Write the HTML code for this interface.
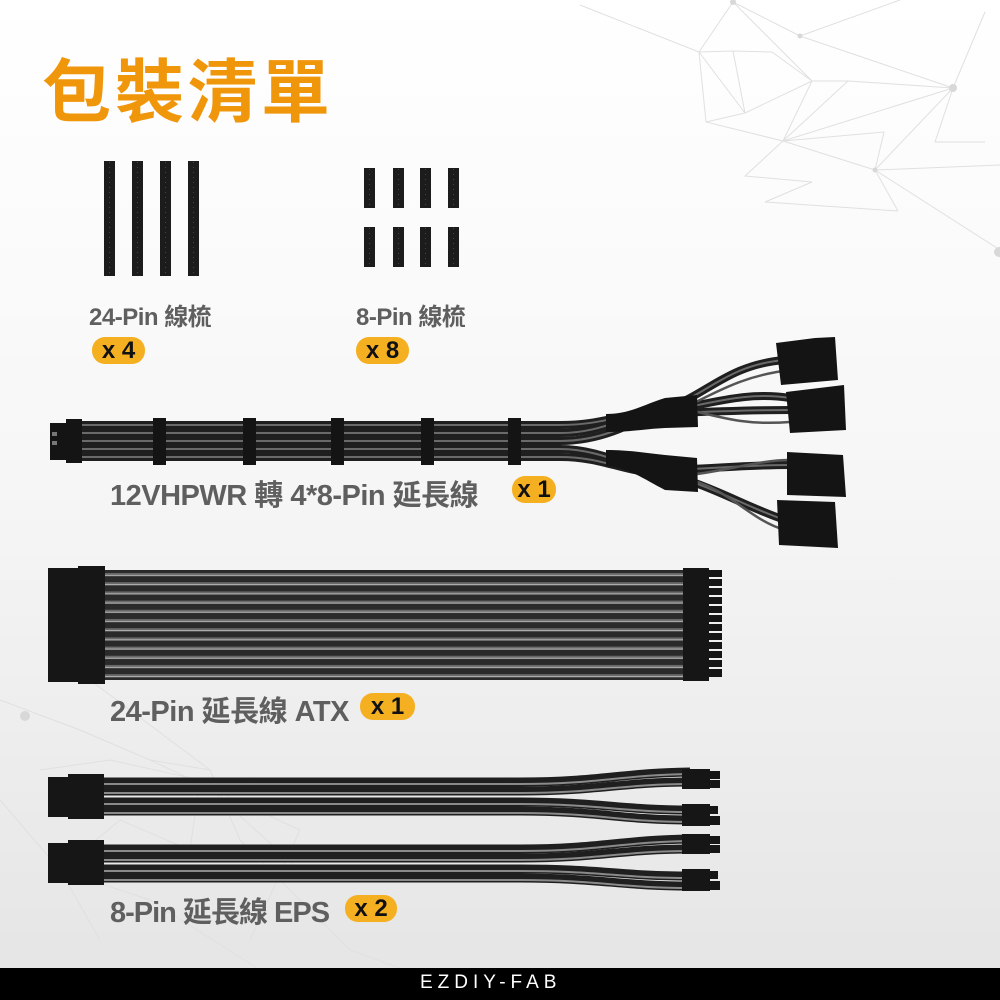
<!DOCTYPE html>
<html><head><meta charset="utf-8"><style>
html,body{margin:0;padding:0}
body{width:1000px;height:1000px;overflow:hidden;background:linear-gradient(#ffffff 0%,#f7f7f7 45%,#e6e6e6 95%);position:relative;font-family:"Liberation Sans","Noto Sans CJK TC",sans-serif}
svg{position:absolute;left:0;top:0}
.t{position:absolute;font-weight:bold;color:#5f5f5f;white-space:nowrap;letter-spacing:-0.5px}
.b{position:absolute;background:#f5b022;border-radius:13px;font-weight:bold;color:#111;text-align:center;font-size:24px;line-height:27px}
</style></head><body>
<svg width="1000" height="1000" viewBox="0 0 1000 1000">
<defs>
<pattern id="atx" x="0" y="570" width="10" height="9.2" patternUnits="userSpaceOnUse"><rect width="10" height="9.2" fill="#2a2a2a"/><rect y="3" width="10" height="3" fill="#6a6a6a"/><rect y="5" width="10" height="1" fill="#bbb"/></pattern>
</defs>
<g stroke="#e0e0e0" stroke-width="1" fill="none">
<path d="M733,2 L699,52 L733,51 L772,52 M733,2 L812,81 M733,2 L800,36 L953,88 M699,52 L745,113 L812,81 L848,81 L953,88 M733,51 L745,113 M772,52 L812,81 M699,52 L706,122 L783,141 M706,122 L745,113 M783,141 L812,81 M783,141 L953,88 M848,81 L783,141 M953,88 L875,170 L884,132 L783,141 M953,88 L935,142 L985,142 M875,170 L1000,165 M875,170 L898,211 M875,170 L1000,250 M783,141 L745,176 L812,182 M783,141 L875,170 M812,182 L765,202 M765,202 L898,211 M953,88 L985,12 M800,36 L900,0 M580,5 L699,52"/>
<path d="M0,700 L80,730 L150,760 L210,770 L240,840 L300,900 L350,950 L400,968 M40,770 L110,760 L200,780 L190,850 L120,820 L60,870 L100,940 M200,780 L300,870 M150,760 L300,830 L250,940 M210,770 L90,680 M0,800 L60,870 L150,900 L260,970"/>
</g>
<g fill="#d8d8d8"><circle cx="953" cy="88" r="4"/><circle cx="733" cy="2" r="3"/><circle cx="800" cy="36" r="2.5"/><circle cx="999" cy="252" r="5"/><circle cx="25" cy="716" r="5"/><circle cx="875" cy="170" r="2.5"/></g>
<g fill="#1c1c1c"><rect x="104" y="161" width="11" height="115"/><rect x="132" y="161" width="11" height="115"/><rect x="160" y="161" width="11" height="115"/><rect x="188" y="161" width="11" height="115"/>
<rect x="364" y="168" width="11" height="40"/><rect x="393" y="168" width="11" height="40"/><rect x="420" y="168" width="11" height="40"/><rect x="448" y="168" width="11" height="40"/>
<rect x="364" y="227" width="11" height="40"/><rect x="393" y="227" width="11" height="40"/><rect x="420" y="227" width="11" height="40"/><rect x="448" y="227" width="11" height="40"/></g>
<g stroke="#444" stroke-width="1" stroke-dasharray="1 4"><path d="M109.5,162V276M137.5,162V276M165.5,162V276M193.5,162V276M369.5,169V207M398.5,169V207M425.5,169V207M453.5,169V207M369.5,228V266M398.5,228V266M425.5,228V266M453.5,228V266"/></g>
<g fill="none" stroke-linecap="round">
<g stroke="#1f1f1f" stroke-width="8"><path d="M80,425 H560 C600,425 620,415 650,412 C700,405 720,365 785,360"/><path d="M80,433 H560 C600,433 620,418 650,413 C700,408 740,390 790,398"/><path d="M80,441 H560 C600,441 630,425 650,414 C700,412 740,410 790,410"/><path d="M80,449 H560 C600,449 630,468 650,470 C700,470 740,465 790,465"/><path d="M80,457 H560 C600,457 620,470 650,472 C700,478 740,505 785,520"/></g>
<g stroke="#6a6a6a" stroke-width="2"><path d="M80,425 H560 C600,425 620,415 650,412 C700,405 720,365 785,360"/><path d="M80,433 H560 C600,433 620,418 650,413 C700,408 740,390 790,398"/><path d="M80,441 H560 C600,441 630,425 650,414 C700,412 740,410 790,410"/><path d="M80,449 H560 C600,449 630,468 650,470 C700,470 740,465 790,465"/><path d="M80,457 H560 C600,457 620,470 650,472 C700,478 740,505 785,520"/></g>
<g stroke="#555" stroke-width="2.5"><path d="M690,405 C730,385 750,375 790,370"/><path d="M690,410 C730,420 750,425 790,422"/><path d="M690,475 C730,470 760,460 790,460"/><path d="M690,480 C730,490 750,520 785,530"/></g>
</g>
<g fill="#141414">
<path d="M606,414 C630,414 645,404 665,398 L697,395 L698,427 L665,428 C645,429 630,432 606,432Z"/>
<path d="M606,450 C630,450 645,453 665,455 L697,458 L698,492 L665,490 C645,480 630,468 606,466Z"/>
<rect x="50" y="423" width="18" height="37"/><rect x="66" y="419" width="16" height="44"/>
<rect x="153" y="418" width="13" height="47"/><rect x="243" y="418" width="13" height="47"/><rect x="331" y="418" width="13" height="47"/><rect x="421" y="418" width="13" height="47"/><rect x="508" y="418" width="13" height="47"/>
<path d="M776,343 L815,338 L835,337 L838,380 L781,385Z"/>
<path d="M786,392 L844,385 L846,430 L790,433Z"/>
<path d="M787,452 L843,455 L846,497 L787,495Z"/>
<path d="M777,500 L835,502 L838,548 L779,545Z"/>
</g>
<g fill="#777"><rect x="52" y="432" width="5" height="4"/><rect x="52" y="441" width="5" height="4"/></g>
<rect x="105" y="570" width="580" height="110" fill="url(#atx)"/>
<rect x="48" y="568" width="32" height="114" fill="#161616"/><rect x="78" y="566" width="27" height="118" fill="#161616"/>
<rect x="683" y="568" width="26" height="113" fill="#161616"/>
<g fill="#161616"><rect x="708" y="570" width="14" height="7"/><rect x="708" y="579" width="14" height="7"/><rect x="708" y="588" width="14" height="7"/><rect x="708" y="597" width="14" height="7"/><rect x="708" y="606" width="14" height="7"/><rect x="708" y="615" width="14" height="7"/><rect x="708" y="624" width="14" height="7"/><rect x="708" y="633" width="14" height="7"/><rect x="708" y="642" width="14" height="7"/><rect x="708" y="651" width="14" height="7"/><rect x="708" y="660" width="14" height="7"/><rect x="708" y="669" width="14" height="8"/></g>
<g fill="none">
<g stroke="#1f1f1f" stroke-width="9"><path d="M100,782 H520 C600,782 620,773 690,772"/><path d="M100,791 H520 C600,791 620,782 690,782"/><path d="M100,802 H520 C600,802 620,810 690,810"/><path d="M100,811 H520 C600,811 620,820 690,820"/>
<path d="M100,849 H520 C600,849 620,840 690,839"/><path d="M100,858 H520 C600,858 620,849 690,849"/><path d="M100,869 H520 C600,869 620,876 690,876"/><path d="M100,878 H520 C600,878 620,886 690,886"/></g>
<g stroke="#8a8a8a" stroke-width="2"><path d="M100,784 H520 C600,784 620,775 690,774"/><path d="M100,793 H520 C600,793 620,784 690,784"/><path d="M100,804 H520 C600,804 620,812 690,812"/><path d="M100,813 H520 C600,813 620,822 690,822"/>
<path d="M100,851 H520 C600,851 620,842 690,841"/><path d="M100,860 H520 C600,860 620,851 690,851"/><path d="M100,871 H520 C600,871 620,878 690,878"/><path d="M100,880 H520 C600,880 620,888 690,888"/></g>
</g>
<g fill="#161616">
<rect x="48" y="777" width="22" height="40"/><rect x="68" y="774" width="36" height="45"/>
<rect x="48" y="843" width="22" height="40"/><rect x="68" y="840" width="36" height="45"/>
<rect x="682" y="769" width="28" height="20"/><rect x="708" y="771" width="12" height="8"/><rect x="708" y="780" width="12" height="8"/>
<rect x="682" y="804" width="28" height="22"/><rect x="708" y="806" width="10" height="8"/><rect x="708" y="816" width="12" height="9"/>
<rect x="682" y="834" width="28" height="20"/><rect x="708" y="836" width="12" height="8"/><rect x="708" y="845" width="12" height="8"/>
<rect x="682" y="869" width="28" height="22"/><rect x="708" y="871" width="10" height="8"/><rect x="708" y="881" width="12" height="9"/>
</g>
<rect x="0" y="968" width="1000" height="32" fill="#000"/>
</svg>
<div style="position:absolute;left:42px;top:46px;font-size:69px;font-weight:bold;color:#f0960a;letter-spacing:4px;line-height:80px;font-family:'Noto Sans CJK TC',sans-serif">包裝清單</div>
<div class="t" style="left:89px;top:297px;font-size:24px">24-Pin 線梳</div>
<div class="b" style="left:92px;top:337px;width:53px">x 4</div>
<div class="t" style="left:356px;top:297px;font-size:24px">8-Pin 線梳</div>
<div class="b" style="left:356px;top:337px;width:53px">x 8</div>
<div class="t" style="left:110px;top:472px;font-size:29px">12VHPWR 轉 4*8-Pin 延長線</div>
<div class="b" style="left:512px;top:476px;width:44px">x 1</div>
<div class="t" style="left:110px;top:688px;font-size:29px">24-Pin 延長線 ATX</div>
<div class="b" style="left:360px;top:693px;width:55px">x 1</div>
<div class="t" style="left:110px;top:889px;font-size:29px;letter-spacing:-1px">8-Pin 延長線 EPS</div>
<div class="b" style="left:345px;top:895px;width:52px">x 2</div>
<div style="position:absolute;left:420px;top:970px;font-size:19px;color:#fff;letter-spacing:5px;line-height:26px">EZDIY-FAB</div>
</body></html>
